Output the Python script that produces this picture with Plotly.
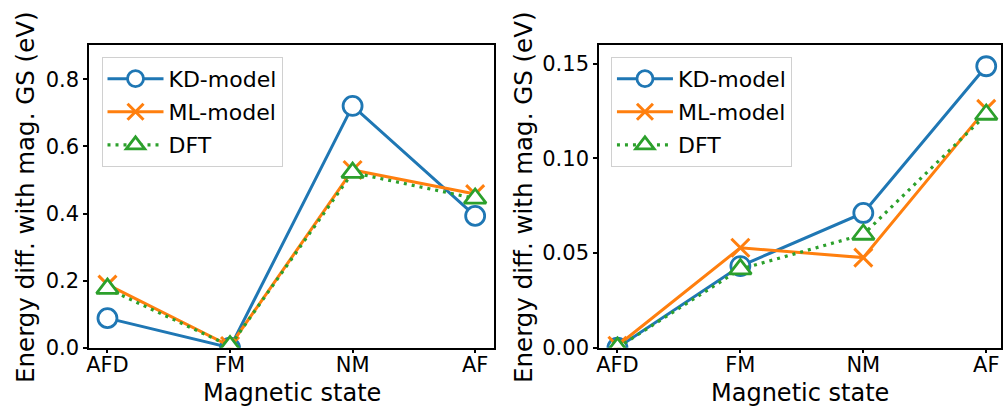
import plotly.graph_objects as go

states = ["AFD", "FM", "NM", "AF"]

# Left panel values (eV)
kd_left = [0.088, 0.0, 0.721, 0.393]
ml_left = [0.188, 0.005, 0.530, 0.458]
dft_left = [0.176, 0.005, 0.522, 0.445]

# Right panel values (eV)
kd_right = [0.0, 0.0431, 0.0712, 0.1487]
ml_right = [0.001, 0.0528, 0.0476, 0.1262]
dft_right = [0.0, 0.0415, 0.0598, 0.1232]

left_yticks = [0.0, 0.2, 0.4, 0.6, 0.8]
right_yticks = [0.0, 0.05, 0.10, 0.15]

series_names = ["KD-model", "ML-model", "DFT"]

C0, C1, C2 = "#1f77b4", "#ff7f0e", "#2ca02c"
FONT = "DejaVu Sans"

W, H = 1003, 420
TARGET_H = 409


def px(x):
    return x / W


def py(y):
    # target pixel (in a 409-high picture) -> paper fraction
    return 1 - y / TARGET_H


fig = go.Figure()


def add_panel(kd, ml, dft, xa, ya, legend, grp):
    fig.add_trace(go.Scatter(
        x=states, y=kd, name=series_names[0], mode="lines+markers",
        line=dict(color=C0, width=3),
        marker=dict(symbol="circle", size=19, color="white",
                    line=dict(color=C0, width=2.8)),
        xaxis=xa, yaxis=ya, legend=legend, legendgroup=grp + "a"))
    fig.add_trace(go.Scatter(
        x=states, y=ml, name=series_names[1], mode="lines+markers",
        line=dict(color=C1, width=3),
        marker=dict(symbol="x-thin", size=18, color=C1,
                    line=dict(color=C1, width=3)),
        xaxis=xa, yaxis=ya, legend=legend, legendgroup=grp + "b"))
    fig.add_trace(go.Scatter(
        x=states, y=dft, name=series_names[2], mode="lines+markers",
        line=dict(color=C2, width=3.2, dash="3px,5px"),
        marker=dict(symbol="triangle-up", size=19, color="white",
                    line=dict(color=C2, width=2.8)),
        xaxis=xa, yaxis=ya, legend=legend, legendgroup=grp + "c"))


add_panel(kd_left, ml_left, dft_left, "x", "y", "legend", "L")
add_panel(kd_right, ml_right, dft_right, "x2", "y2", "legend2", "R")

axis_common = dict(
    showline=True, mirror=True, linecolor="black", linewidth=1.6,
    ticks="outside", ticklen=4, tickwidth=1.5, tickcolor="black",
    showgrid=False, zeroline=False,
    tickfont=dict(family=FONT, size=21, color="black"),
)

y_bot = py(348.5)
y_top = py(45)

legend_common = dict(
    xanchor="left", yanchor="top",
    bgcolor="rgba(255,255,255,0.8)", bordercolor="#d0d0d0", borderwidth=1,
    font=dict(family=FONT, size=22, color="black"),
    itemwidth=56, tracegroupgap=1.5,
)

fig.update_layout(
    width=W, height=H,
    margin=dict(l=0, r=0, t=0, b=0),
    paper_bgcolor="white", plot_bgcolor="white",
    font=dict(family=FONT, color="black"),
    xaxis=dict(domain=[px(86.5), px(493)], anchor="y",
               type="category", categoryorder="array", categoryarray=states,
               range=[-0.15, 3.15], ticklabelstandoff=-7, **axis_common),
    yaxis=dict(domain=[y_bot, y_top], anchor="x", range=[0, 0.903],
               tickvals=left_yticks, tickformat=".1f", **axis_common),
    xaxis2=dict(domain=[px(599), 1.0], anchor="y2",
                type="category", categoryorder="array", categoryarray=states,
                range=[-0.15, 3.12], ticklabelstandoff=-7, **axis_common),
    yaxis2=dict(domain=[y_bot, y_top], anchor="x2", range=[0, 0.16],
                tickvals=right_yticks, tickformat=".2f", **axis_common),
    legend=dict(x=px(99), y=py(57), **legend_common),
    legend2=dict(x=px(611), y=py(57), **legend_common),
    showlegend=True,
)

ylabel = "Energy diff. with mag. GS (eV)"
xlabel = "Magnetic state"
for xc, xt in [(22.5, 290), (523, 801)]:
    fig.add_annotation(text=ylabel, textangle=-90, x=px(xc), y=py(198),
                       xref="paper", yref="paper", showarrow=False,
                       xanchor="center", yanchor="middle",
                       font=dict(family=FONT, size=24.5, color="black"))
    fig.add_annotation(text=xlabel, x=px(xt), y=0,
                       xref="paper", yref="paper", showarrow=False,
                       xanchor="center", yanchor="bottom", borderpad=0,
                       font=dict(family=FONT, size=24, color="black"))

fig.write_html("out.html")
